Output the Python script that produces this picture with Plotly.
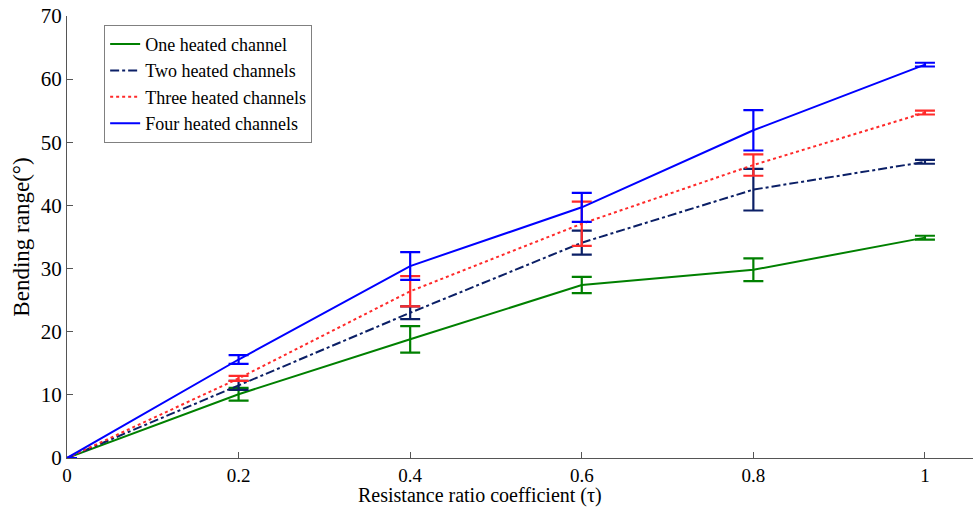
import plotly.graph_objects as go

x = [0, 0.2, 0.4, 0.6, 0.8, 1.0]

one_val = [0, 10.1, 18.8, 27.4, 29.8, 34.9]
one_err = [0, 1.0, 2.1, 1.3, 1.8, 0.3]
two_val = [0, 11.5, 23.0, 34.1, 42.5, 46.9]
two_err = [0, 0.7, 1.0, 1.9, 3.3, 0.3]
three_val = [0, 12.6, 26.4, 37.1, 46.4, 54.7]
three_err = [0, 0.4, 2.4, 3.5, 1.7, 0.3]
four_val = [0, 15.6, 30.4, 39.7, 51.9, 62.3]
four_err = [0, 0.7, 2.2, 2.3, 3.2, 0.3]

names = ["One heated channel", "Two heated channels", "Three heated channels", "Four heated channels"]
colors = ["#008000", "#0b1f66", "#ff2a2a", "#0000ff"]
dashes = ["solid", "dashdot", "dot", "solid"]
vals = [one_val, two_val, three_val, four_val]
errs = [one_err, two_err, three_err, four_err]

fig = go.Figure()
for n, c, d, v, e in zip(names, colors, dashes, vals, errs):
    fig.add_trace(go.Scatter(
        x=x, y=v, name=n, mode="lines",
        line=dict(color=c, width=2, dash=d),
        error_y=dict(type="data", array=e, visible=True, color=c, thickness=2.2, width=10),
    ))

font = "Liberation Serif"
fig.update_layout(
    width=973, height=509,
    margin=dict(l=67, r=0, t=16, b=51),
    paper_bgcolor="white", plot_bgcolor="white",
    font=dict(family=font, size=20, color="black"),
    showlegend=True,
    legend=dict(x=0.041, y=0.98, xanchor="left", yanchor="top",
                bgcolor="white", bordercolor="#808080", borderwidth=1,
                font=dict(family=font, size=18, color="black")),
    annotations=[dict(text="Resistance ratio coefficient (\u03c4)", xref="paper", yref="paper",
                      x=0.456, y=0, xanchor="center", yanchor="bottom", yshift=-50,
                      borderpad=0, showarrow=False, font=dict(family=font, size=20, color="black"))],
)
fig.update_xaxes(range=[0, 1.056], tickvals=[0, 0.2, 0.4, 0.6, 0.8, 1.0],
                 ticktext=["0", "0.2", "0.4", "0.6", "0.8", "1"],
                 tickfont=dict(family=font, size=19),
                 ticks="inside", ticklen=6, tickcolor="#555", showline=True, linecolor="#555",
                 linewidth=1, showgrid=False, zeroline=False, automargin=False)
fig.update_yaxes(range=[0, 70], tickvals=[0, 10, 20, 30, 40, 50, 60, 70],
                 tickfont=dict(family=font, size=21),
                 ticks="inside", ticklen=6, tickcolor="#555", showline=True, linecolor="#555",
                 linewidth=1, showgrid=False, zeroline=False, automargin=False,
                 title=dict(text="Bending range(\u00b0)", font=dict(family=font, size=23), standoff=4))

fig.write_html("out.html")
